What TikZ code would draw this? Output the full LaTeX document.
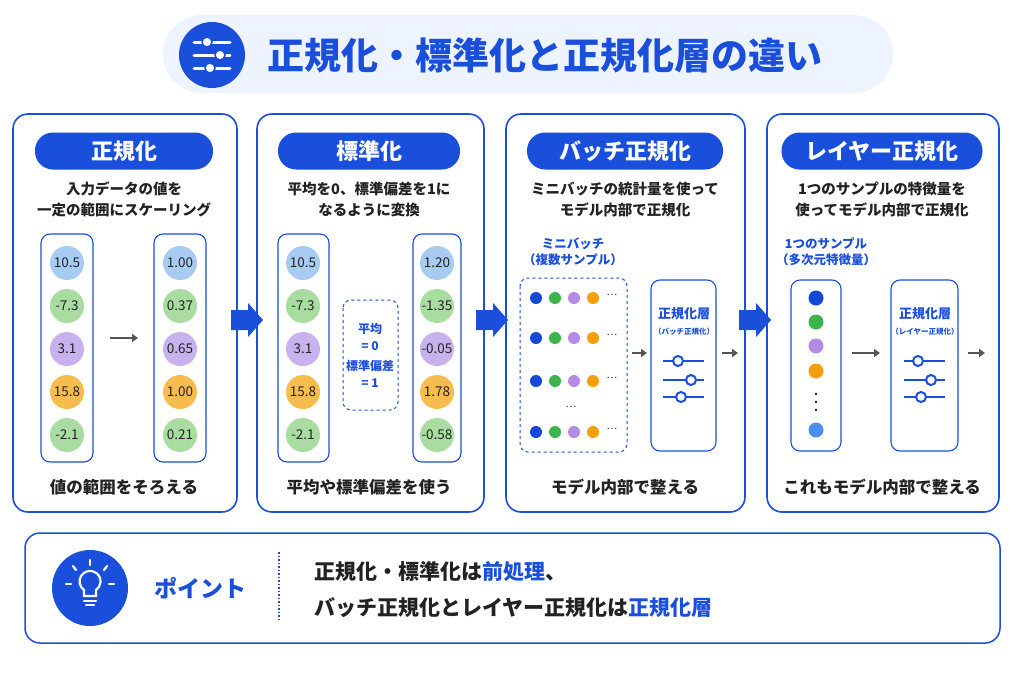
\documentclass[tikz,border=0pt]{standalone}
\usepackage{fontspec}
\setmainfont{Noto Sans CJK JP}
\usetikzlibrary{arrows.meta}
\definecolor{mb}{HTML}{1A4FDB}
\definecolor{lb}{HTML}{EEF4FF}
\definecolor{cb}{HTML}{A8CBF2}
\definecolor{cg}{HTML}{A8DCA0}
\definecolor{cp}{HTML}{C8B2EE}
\definecolor{co}{HTML}{F7BC4E}
\definecolor{db}{HTML}{1448D8}
\definecolor{dg}{HTML}{3BB54A}
\definecolor{dp}{HTML}{B48AE6}
\definecolor{do}{HTML}{F59E0B}
\definecolor{dl}{HTML}{4A90F0}
\definecolor{gr}{HTML}{555555}
\definecolor{tx}{HTML}{222222}
\begin{document}
\begin{tikzpicture}[x=1pt,y=-1pt,
 panel/.style={draw=mb,line width=1.6pt,rounded corners=15pt},
 pill/.style={fill=mb,rounded corners=18pt,text=white,font=\bfseries\fontsize{22}{22}\selectfont,inner sep=0pt},
 desc/.style={text=tx,font=\bfseries\fontsize{14.5}{21}\selectfont,align=center},
 captext/.style={text=tx,font=\bfseries\fontsize{16.5}{16}\selectfont},
 col/.style={draw=mb,line width=1.1pt,rounded corners=9pt},
 val/.style={circle,minimum size=34pt,inner sep=0pt,text=tx,font=\fontsize{13.5}{13}\selectfont},
 dot/.style={circle,minimum size=12pt,inner sep=0pt},
 ga/.style={draw=gr,line width=2pt,-{Triangle[length=6pt,width=8pt]}},
 bl/.style={text=mb,font=\bfseries\fontsize{12.5}{16}\selectfont,align=center},
 slider/.style={draw=mb,line width=2pt},
 knob/.style={circle,draw=mb,line width=2pt,fill=white,minimum size=10pt,inner sep=0pt}]
\useasboundingbox (0,0) rectangle (1024,683);
\fill[white] (0,0) rectangle (1024,683);
% title
\node[fill=lb,rounded corners=39pt,minimum width=730pt,minimum height=78pt] (title) at (528,54) {};
\node[circle,fill=mb,minimum size=66pt] (ticon) at (212,55) {};
\foreach \y/\k in {-13/-5,0/8,13/-2}{\draw[white,line width=3pt,line cap=round] ([xshift=-18pt,yshift=-\y pt]ticon.center) -- ([xshift=18pt,yshift=-\y pt]ticon.center);
 \node[circle,fill=white,draw=mb,line width=1.5pt,minimum size=10pt,inner sep=0pt] at ([xshift=\k pt,yshift=-\y pt]ticon.center) {};}
\node[text=mb,font=\bfseries\fontsize{37}{37}\selectfont,anchor=west] (ttext) at (264,55) {正規化・標準化と正規化層の違い};
% panels
\draw[panel] (13,114) rectangle (237,512);
\draw[panel] (257,114) rectangle (484,512);
\draw[panel] (506,114) rectangle (745,512);
\draw[panel] (767,114) rectangle (999,512);
\node[pill,minimum width=178pt,minimum height=37pt] (p1) at (124,151) {正規化};
\node[pill,minimum width=182pt,minimum height=37pt] (p2) at (369,151) {標準化};
\node[pill,minimum width=196pt,minimum height=37pt] (p3) at (625,151) {バッチ正規化};
\node[pill,minimum width=201pt,minimum height=37pt] (p4) at (882,151) {レイヤー正規化};
\node[desc] (d1) at (124,199) {入力データの値を\\一定の範囲にスケーリング};
\node[desc] (d2) at (369,199) {平均を0、標準偏差を1に\\なるように変換};
\node[desc] (d3) at (625,199) {ミニバッチの統計量を使って\\モデル内部で正規化};
\node[desc] (d4) at (882,199) {1つのサンプルの特徴量を\\使ってモデル内部で正規化};
\node[captext] (c1) at (124,487) {値の範囲をそろえる};
\node[captext] (c2) at (369,487) {平均や標準偏差を使う};
\node[captext] (c3) at (625,487) {モデル内部で整える};
\node[captext] (c4) at (882,487) {これもモデル内部で整える};
% big arrows
\foreach \x in {231,476,739}{\fill[mb] (\x,310) -- (\x+17,310) -- (\x+17,303) -- (\x+32,320) -- (\x+17,337) -- (\x+17,330) -- (\x,330) -- cycle;}
% panel 1
\draw[col] (41,234) rectangle (93,462);
\draw[col] (154,234) rectangle (206,462);
\foreach \c/\a/\b [count=\i] in {cb/10.5/1.00,cg/-7.3/0.37,cp/3.1/0.65,co/15.8/1.00,cg/-2.1/0.21}{
 \node[val,fill=\c] (a\i) at (67,220+43*\i) {\a};
 \node[val,fill=\c] (b\i) at (180,220+43*\i) {\b};}
\coordinate (s1) at (110,338); \coordinate (e1) at (138,338);
\draw[ga] (s1) -- (e1);
% panel 2
\draw[col] (278,234) rectangle (329,462);
\draw[col] (413,234) rectangle (461,462);
\foreach \c/\a/\b [count=\i] in {cb/10.5/1.20,cg/-7.3/-1.35,cp/3.1/-0.05,co/15.8/1.78,cg/-2.1/-0.58}{
 \node[val,fill=\c] (m\i) at (303,220+43*\i) {\a};
 \node[val,fill=\c] (n\i) at (437,220+43*\i) {\b};}
\draw[mb,line width=1pt,dashed,rounded corners=8pt] (343,300) rectangle (398,410);
\node[bl,font=\bfseries\fontsize{12}{17}\selectfont] (st) at (370,355) {平均\\= 0\\[3pt]標準偏差\\= 1};
% panel 3
\node[bl] (mb1) at (573,252) {ミニバッチ\\（複数サンプル）};
\draw[mb,line width=1pt,dashed,rounded corners=8pt] (520,278) rectangle (627,452);
\foreach \y [count=\r] in {298,338,381,432}{
 \foreach \c [count=\j] in {db,dg,dp,do}{\node[dot,fill=\c] (r\r\j) at (517+19*\j,\y) {};}
 \node[text=tx,font=\fontsize{10}{10}\selectfont] at (612,\y-3) {…};}
\node[text=tx,font=\fontsize{10}{10}\selectfont] (vd) at (571,407) {…};
\draw[col] (651,280) rectangle (716,451);
\node[bl,font=\bfseries\fontsize{13}{14}\selectfont] at (684,314) {正規化層};
\node[text=mb,font=\bfseries\fontsize{7.5}{7}\selectfont] at (684,332) {（バッチ正規化）};
\foreach \y/\k in {361/678,380/691,397/681}{\draw[slider] (663,\y) -- (704,\y); \node[knob] at (\k,\y) {};}
\coordinate (s3) at (632,353); \coordinate (e3) at (647,353);
\draw[ga] (s3) -- (e3);
\coordinate (s4) at (722,353); \coordinate (e4) at (738,353);
\draw[ga] (s4) -- (e4);
% panel 4
\node[bl] (sm) at (826,252) {1つのサンプル\\（多次元特徴量）};
\draw[col] (791,280) rectangle (841,451);
\foreach \c/\y [count=\i] in {db/298,dg/322,dp/346,do/371,dl/430}{\node[dot,fill=\c,minimum size=15pt] (f\i) at (816,\y) {};}
\foreach \y in {394,402,410}{\fill[tx] (816,\y) circle (1.3pt);}
\draw[col] (891,280) rectangle (958,451);
\node[bl,font=\bfseries\fontsize{13}{14}\selectfont] at (925,314) {正規化層};
\node[text=mb,font=\bfseries\fontsize{7.5}{7}\selectfont] at (925,332) {（レイヤー正規化）};
\foreach \y/\k in {361/918,380/931,397/921}{\draw[slider] (904,\y) -- (945,\y); \node[knob] at (\k,\y) {};}
\coordinate (s5) at (852,353); \coordinate (e5) at (880,353);
\draw[ga] (s5) -- (e5);
\coordinate (s6) at (968,353); \coordinate (e6) at (985,353);
\draw[ga] (s6) -- (e6);
% bottom
\draw[panel,line width=1.5pt] (25,533) rectangle (1000,643);
\node[circle,fill=mb,minimum size=76pt] (bulb) at (90,588) {};
\begin{scope}[white,line width=2.2pt,line cap=round]
 \draw (84,596) -- (84,590) arc[start angle=235,end angle=-55,radius=10.5pt] -- (96,596) -- cycle;
 \draw (84,601) -- (96,601); \draw (86,605) -- (94,605);
 \draw (90,560) -- (90,565); \draw (73,566) -- (76,570); \draw (107,566) -- (104,570);
 \draw (66,584) -- (71,584); \draw (109,584) -- (114,584);
\end{scope}
\node[text=mb,font=\bfseries\fontsize{23}{23}\selectfont] (pt) at (200,588) {ポイント};
\draw[mb,line width=1.5pt,dotted] (279,552) -- (279,622);
\node[anchor=west,text=tx,font=\bfseries\fontsize{21}{36}\selectfont,align=left] (msg) at (311,590) {正規化・標準化は\textcolor{mb}{前処理}、\\バッチ正規化とレイヤー正規化は\textcolor{mb}{正規化層}};
\end{tikzpicture}
\end{document}
